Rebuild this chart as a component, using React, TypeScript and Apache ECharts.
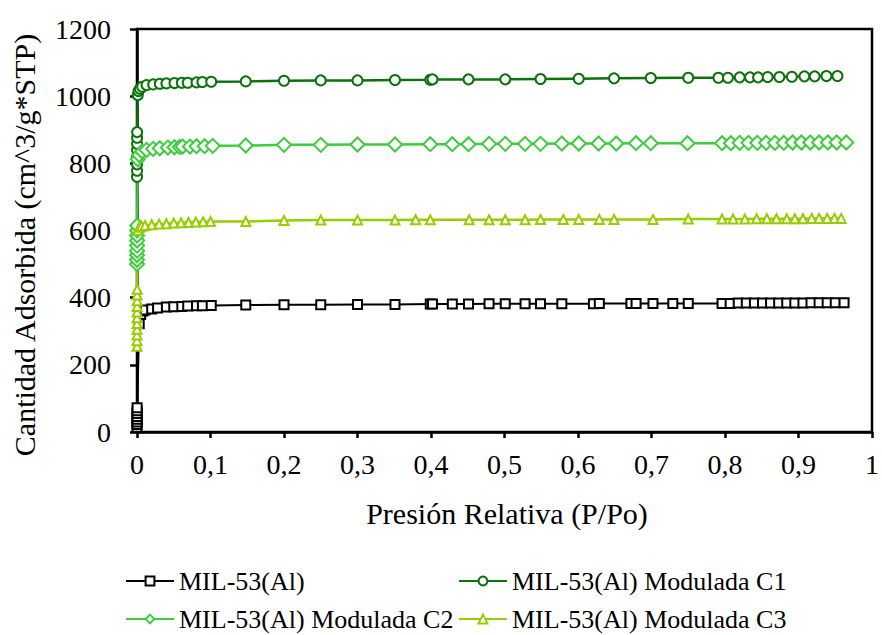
import React, { useEffect, useRef } from "react";
import * as echarts from "echarts";

// Relative pressure (P/Po) and adsorbed quantity (cm^3/g STP) for each sample
const pMil = [0.00002, 0.00004, 0.00006, 0.00008, 0.0001, 0.00012, 0.00014, 0.00016, 0.003, 0.005, 0.008, 0.011, 0.02, 0.028, 0.04, 0.05, 0.061, 0.069, 0.081, 0.089, 0.101, 0.148, 0.2, 0.25, 0.3, 0.351, 0.399, 0.402, 0.429, 0.451, 0.479, 0.501, 0.528, 0.549, 0.578, 0.621, 0.629, 0.672, 0.679, 0.702, 0.729, 0.75, 0.796, 0.807, 0.818, 0.829, 0.84, 0.851, 0.862, 0.873, 0.884, 0.895, 0.906, 0.917, 0.928, 0.939, 0.95, 0.962];
const qMil = [14, 22, 30, 38, 46, 55, 63, 72, 322, 350, 360, 363, 366, 369, 372, 373, 374, 375, 376, 376, 377, 378, 379, 379, 380, 380, 381, 381, 381, 381, 382, 382, 382, 382, 382, 382, 383, 383, 383, 383, 383, 383, 383, 383, 384, 384, 384, 384, 384, 384, 384, 384, 384, 385, 385, 385, 385, 385];

const pC1 = [0.00002, 0.00004, 0.00006, 0.00008, 0.0001, 0.00012, 0.00014, 0.00016, 0.001, 0.002, 0.004, 0.007, 0.013, 0.022, 0.031, 0.04, 0.051, 0.061, 0.069, 0.081, 0.089, 0.101, 0.148, 0.2, 0.25, 0.3, 0.351, 0.399, 0.402, 0.451, 0.501, 0.549, 0.601, 0.649, 0.699, 0.75, 0.791, 0.804, 0.82, 0.834, 0.845, 0.858, 0.874, 0.891, 0.908, 0.922, 0.938, 0.953];
const qC1 = [760, 778, 797, 818, 840, 858, 876, 893, 1003, 1015, 1022, 1028, 1033, 1035, 1037, 1038, 1039, 1040, 1040, 1041, 1042, 1043, 1044, 1046, 1047, 1047, 1048, 1049, 1050, 1050, 1050, 1051, 1052, 1053, 1054, 1055, 1055, 1055, 1056, 1056, 1056, 1057, 1057, 1058, 1059, 1059, 1060, 1060];

const pC2 = [0.00002, 0.00004, 0.00006, 0.00008, 0.0001, 0.00012, 0.00014, 0.00016, 0.00018, 0.001, 0.003, 0.007, 0.013, 0.022, 0.031, 0.042, 0.051, 0.058, 0.062, 0.072, 0.081, 0.092, 0.103, 0.148, 0.2, 0.25, 0.3, 0.351, 0.399, 0.429, 0.451, 0.479, 0.501, 0.528, 0.549, 0.578, 0.601, 0.628, 0.652, 0.679, 0.699, 0.749, 0.796, 0.808, 0.82, 0.832, 0.844, 0.856, 0.868, 0.88, 0.892, 0.904, 0.916, 0.928, 0.94, 0.952, 0.965];
const qC2 = [500, 513, 527, 540, 555, 570, 585, 600, 615, 812, 825, 835, 840, 843, 845, 847, 848, 849, 850, 850, 851, 851, 852, 853, 855, 855, 856, 856, 857, 857, 857, 858, 858, 858, 858, 859, 859, 859, 859, 860, 860, 860, 860, 860, 861, 861, 861, 861, 861, 861, 862, 862, 862, 862, 862, 862, 862];

const pC3 = [0.00002, 0.00004, 0.00006, 0.00008, 0.0001, 0.00012, 0.00014, 0.00016, 0.00018, 0.0002, 0.00022, 0.001, 0.003, 0.006, 0.011, 0.02, 0.03, 0.04, 0.05, 0.06, 0.07, 0.08, 0.09, 0.1, 0.148, 0.2, 0.25, 0.3, 0.351, 0.379, 0.399, 0.452, 0.479, 0.501, 0.528, 0.549, 0.58, 0.601, 0.629, 0.649, 0.702, 0.75, 0.796, 0.811, 0.827, 0.843, 0.857, 0.87, 0.884, 0.895, 0.906, 0.918, 0.928, 0.939, 0.949, 0.958];
const qC3 = [255, 272, 289, 306, 323, 340, 357, 374, 391, 408, 425, 600, 610, 613, 615, 617, 619, 620, 622, 623, 624, 625, 626, 627, 627, 630, 631, 631, 631, 632, 632, 632, 632, 632, 632, 633, 633, 633, 633, 633, 633, 634, 634, 634, 634, 635, 635, 635, 635, 635, 635, 636, 636, 636, 636, 636];

const xTicks = [0, 0.1, 0.2, 0.3, 0.4, 0.5, 0.6, 0.7, 0.8, 0.9, 1];
const yTicks = [0, 200, 400, 600, 800, 1000, 1200];

const seriesNames = [
  "MIL-53(Al)",
  "MIL-53(Al) Modulada C1",
  "MIL-53(Al) Modulada C2",
  "MIL-53(Al) Modulada C3",
];

const FONT = "'Liberation Serif', 'Times New Roman', serif";

const zip = (p: number[], q: number[]) => p.map((v, i) => [v, q[i]]);

export default function App() {
  const ref = useRef<HTMLDivElement>(null);

  useEffect(() => {
    if (!ref.current) return;
    const chart = echarts.init(ref.current, undefined, { renderer: "svg" });

    const mk = (
      name: string,
      data: number[][],
      color: string,
      symbol: string,
      size: number | number[],
      lw: number
    ) => ({
      name,
      type: "line",
      data,
      symbol,
      symbolSize: size,
      clip: false,
      lineStyle: { color, width: lw },
      itemStyle: { color: "#ffffff", borderColor: color, borderWidth: 2 },
      emphasis: { disabled: true },
    });

    const legendBase = {
      itemWidth: 48,
      itemHeight: 11,
      itemGap: 0,
      textStyle: { fontFamily: FONT, fontSize: 26, color: "#000" },
      selectedMode: false,
    };

    chart.setOption({
      animation: false,
      backgroundColor: "#ffffff",
      grid: {
        left: 137,
        top: 29,
        right: 4,
        bottom: 203,
        show: true,
        borderColor: "#000",
        borderWidth: 2.5,
      },
      xAxis: {
        type: "value",
        min: xTicks[0],
        max: xTicks[xTicks.length - 1],
        interval: 0.1,
        axisLine: { show: true, lineStyle: { color: "#000", width: 2.5 } },
        axisTick: { show: true, inside: false, length: 6, lineStyle: { color: "#000", width: 2.5 } },
        splitLine: { show: false },
        axisLabel: {
          margin: 18,
          color: "#000",
          fontFamily: FONT,
          fontSize: 28,
          formatter: (v: number) => {
            const r = Math.round(v * 10) / 10;
            return String(r).replace(".", ",");
          },
        },
      },
      yAxis: {
        type: "value",
        min: yTicks[0],
        max: yTicks[yTicks.length - 1],
        interval: 200,
        axisLine: { show: true, lineStyle: { color: "#000", width: 2.5 } },
        axisTick: { show: true, inside: false, length: 7, lineStyle: { color: "#000", width: 2.5 } },
        splitLine: { show: false },
        axisLabel: {
          margin: 26,
          color: "#000",
          fontFamily: FONT,
          fontSize: 28,
          formatter: (v: number) => String(Math.round(v)),
        },
      },
      legend: [
        { ...legendBase, data: [seriesNames[0]], left: 120, top: 563 },
        { ...legendBase, data: [seriesNames[1]], left: 453, top: 563 },
        { ...legendBase, data: [seriesNames[2]], left: 120, top: 601 },
        { ...legendBase, data: [seriesNames[3]], left: 453, top: 601 },
      ],
      graphic: [
        {
          type: "text",
          x: 507,
          y: 513,
          style: {
            text: "Presión Relativa (P/Po)",
            fontFamily: FONT,
            fontSize: 30,
            fill: "#000",
            textAlign: "center",
            textVerticalAlign: "middle",
          },
        },
        {
          type: "text",
          x: 24,
          y: 245,
          rotation: Math.PI / 2,
          style: {
            text: "Cantidad Adsorbida (cm^3/g*STP)",
            fontFamily: FONT,
            fontSize: 30,
            fill: "#000",
            textAlign: "center",
            textVerticalAlign: "middle",
          },
        },
      ],
      series: [
        mk(seriesNames[0], zip(pMil, qMil), "#000000", "rect", 9, 2),
        mk(seriesNames[1], zip(pC1, qC1), "#0c720c", "circle", 10, 2.5),
        mk(seriesNames[2], zip(pC2, qC2), "#3dcc3d", "diamond", [14, 14], 2.5),
        mk(seriesNames[3], zip(pC3, qC3), "#99cc00", "triangle", 9, 2.5),
      ],
    });

    return () => chart.dispose();
  }, []);

  return (
    <div
      ref={ref}
      style={{ position: "fixed", left: 0, top: 0, width: 882, height: 635 }}
    />
  );
}
